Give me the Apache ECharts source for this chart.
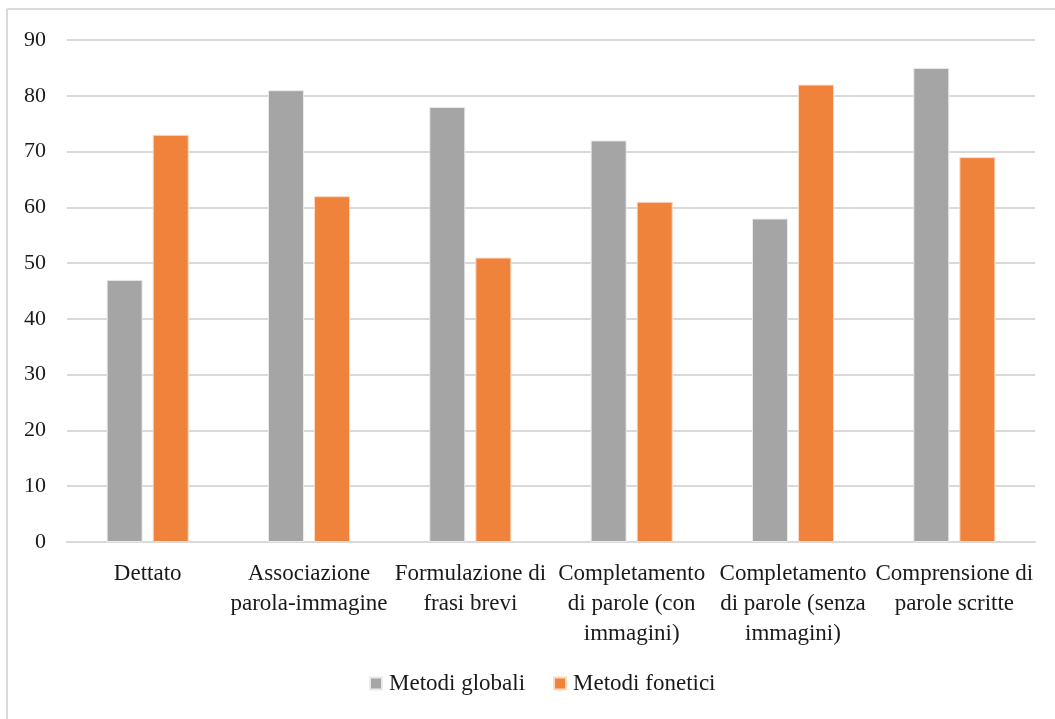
<!DOCTYPE html>
<html>
<head>
<meta charset="utf-8">
<script src="https://cdn.jsdelivr.net/npm/echarts@6/dist/echarts.min.js"></script>
<style>
  html, body { margin: 0; padding: 0; background: #fff; }
  #chart { width: 1055px; height: 719px; }
</style>
</head>
<body>
<div id="chart"></div>
<script>
// Prove di lettura e scrittura: punteggi per metodo di insegnamento
const categories = [
  'Dettato',
  'Associazione\nparola-immagine',
  'Formulazione di\nfrasi brevi',
  'Completamento\ndi parole (con\nimmagini)',
  'Completamento\ndi parole (senza\nimmagini)',
  'Comprensione di\nparole scritte'
];
const seriesNames = ['Metodi globali', 'Metodi fonetici'];
const metodiGlobali = [47, 81, 78, 72, 58, 85];
const metodiFonetici = [73, 62, 51, 61, 82, 69];
const yTicks = { min: 0, max: 90, interval: 10 };

const font = '"Liberation Serif", "Times New Roman", serif';
const chart = echarts.init(document.getElementById('chart'), null, { renderer: 'canvas' });

chart.setOption({
  animation: false,
  backgroundColor: '#ffffff',
  textStyle: { fontFamily: font },
  graphic: [
    // chart frame: top and left edges
    { type: 'line', shape: { x1: 7, y1: 9, x2: 1055, y2: 9 }, style: { stroke: '#d9d9d9', lineWidth: 2 } },
    { type: 'line', shape: { x1: 7, y1: 9, x2: 7, y2: 719 }, style: { stroke: '#d9d9d9', lineWidth: 2 } }
  ],
  grid: { left: 67, right: 20, top: 40, bottom: 177, containLabel: false },
  legend: {
    data: seriesNames,
    bottom: 19,
    left: 364,
    itemWidth: 12,
    itemHeight: 12,
    itemGap: 28,
    icon: 'rect',
    textStyle: { fontFamily: font, fontSize: 23, color: '#1a1a1a', padding: [0, 0, 0, 2] }
  },
  xAxis: {
    type: 'category',
    data: categories,
    axisLine: { show: true, lineStyle: { color: '#d9d9d9', width: 2 } },
    axisTick: { show: false },
    axisLabel: {
      interval: 0,
      fontFamily: font,
      fontSize: 23,
      color: '#1a1a1a',
      lineHeight: 30,
      margin: 17,
      align: 'center'
    }
  },
  yAxis: {
    type: 'value',
    min: yTicks.min,
    max: yTicks.max,
    interval: yTicks.interval,
    axisLine: { show: false },
    axisTick: { show: false },
    splitLine: { lineStyle: { color: '#d9d9d9', width: 2 } },
    axisLabel: { fontFamily: font, fontSize: 22, color: '#1a1a1a', margin: 21 }
  },
  series: [
    {
      name: seriesNames[0],
      type: 'bar',
      data: metodiGlobali,
      barWidth: 36,
      barGap: '28%',
      itemStyle: { color: '#a5a5a5', borderColor: '#ebebeb', borderWidth: 1 }
    },
    {
      name: seriesNames[1],
      type: 'bar',
      data: metodiFonetici,
      barWidth: 36,
      barGap: '28%',
      itemStyle: { color: '#f0833b', borderColor: '#fbd9c2', borderWidth: 1 }
    }
  ]
});
</script>
</body>
</html>
